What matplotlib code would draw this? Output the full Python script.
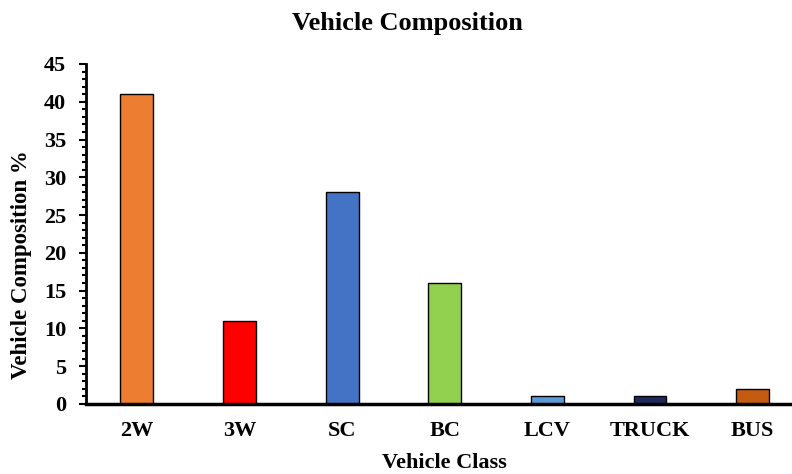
import matplotlib.pyplot as plt
from matplotlib.ticker import MultipleLocator

# Vehicle class shares (%)
classes = ["2W", "3W", "SC", "BC", "LCV", "TRUCK", "BUS"]
composition = [41, 11, 28, 16, 1, 1, 2]
colors = ["#ED7D31", "#FF0000", "#4472C4", "#92D050", "#5B9BD5", "#1F2A5C", "#C55A11"]

plt.rcParams["font.family"] = ["Liberation Serif", "DejaVu Serif"]
plt.rcParams["font.weight"] = "bold"

fig = plt.figure(figsize=(7.92, 4.74), dpi=100)
# plot area runs a little past the right edge of the figure
ax = fig.add_axes([0.108, 0.148, 0.907, 0.717])

x = range(len(classes))
ax.bar(x, composition, width=0.32, color=colors, edgecolor="black", linewidth=1)

ax.set_xlim(-0.5, 6.5)
ax.set_ylim(0, 45)
ax.yaxis.set_major_locator(MultipleLocator(5))
ax.yaxis.set_minor_locator(MultipleLocator(1))
ax.set_xticks(list(x))
ax.set_xticklabels(classes)

for side in ["top", "right"]:
    ax.spines[side].set_visible(False)
ax.spines["left"].set_linewidth(2)
ax.spines["bottom"].set_linewidth(2.5)

ax.tick_params(axis="y", which="major", direction="out", length=5, width=1.5, labelsize=16, pad=9)
ax.tick_params(axis="y", which="minor", direction="out", length=3, width=1.5)
ax.tick_params(axis="x", length=0, labelsize=16, pad=12)
for lbl in ax.get_xticklabels() + ax.get_yticklabels():
    lbl.set_fontweight("bold")

fig.suptitle("Vehicle Composition", x=0.515, y=0.975, fontsize=19, fontweight="bold")
ax.set_xlabel("Vehicle Class", fontsize=16, fontweight="bold", labelpad=9)
ax.set_ylabel("Vehicle Composition %", fontsize=16.5, fontweight="bold")
ax.yaxis.set_label_coords(-0.074, 0.41)

fig.savefig("out.png", dpi=100)
